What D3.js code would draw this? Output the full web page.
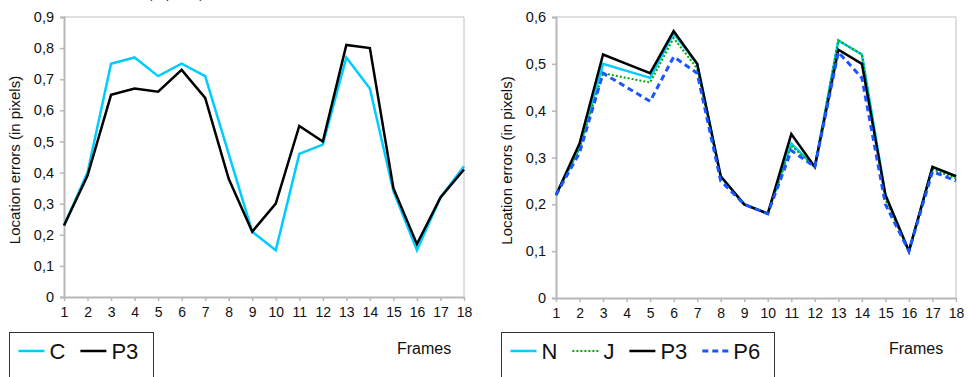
<!DOCTYPE html>
<html>
<head>
<meta charset="utf-8">
<script src="https://cdn.jsdelivr.net/npm/d3@7"></script>
<style>
  body { margin: 0; background: #fff; }
  svg { font-family: "Liberation Sans", Arial, sans-serif; }
</style>
</head>
<body>
<svg id="chart" width="968" height="377"></svg>
<script>
// frames 1..18
var frames = d3.range(1, 19)

// left chart
var leftTicks = ['0', '0,1', '0,2', '0,3', '0,4', '0,5', '0,6', '0,7', '0,8', '0,9']
var seriesC = [0.23, 0.40, 0.75, 0.77, 0.71, 0.75, 0.71, 0.46, 0.21, 0.15, 0.46, 0.49, 0.77, 0.67, 0.34, 0.15, 0.32, 0.42]
var seriesP3a = [0.23, 0.39, 0.65, 0.67, 0.66, 0.73, 0.64, 0.38, 0.21, 0.30, 0.55, 0.50, 0.81, 0.80, 0.35, 0.17, 0.32, 0.41]

// right chart
var rightTicks = ['0', '0,1', '0,2', '0,3', '0,4', '0,5', '0,6']
var seriesN = [0.22, 0.32, 0.50, 0.485, 0.47, 0.565, 0.50, 0.26, 0.20, 0.18, 0.33, 0.28, 0.55, 0.52, 0.22, 0.10, 0.28, 0.26]
var seriesJ = [0.22, 0.32, 0.48, 0.47, 0.46, 0.555, 0.49, 0.26, 0.20, 0.18, 0.325, 0.28, 0.55, 0.52, 0.21, 0.10, 0.275, 0.255]
var seriesP3b = [0.22, 0.33, 0.52, 0.50, 0.48, 0.57, 0.50, 0.26, 0.20, 0.18, 0.35, 0.28, 0.53, 0.50, 0.22, 0.10, 0.28, 0.26]
var seriesP6 = [0.22, 0.31, 0.48, 0.45, 0.42, 0.515, 0.48, 0.25, 0.20, 0.18, 0.315, 0.28, 0.525, 0.47, 0.20, 0.10, 0.27, 0.25]

var svg = d3.select('#chart')

// clipped title bits at the very top of the left panel
svg.append('text')
  .attr('x', 148)
  .attr('y', -2)
  .attr('font-size', 13)
  .attr('fill', '#222')
  .text('(in pixels)')

function drawChart(opts) {
  var x = d3.scaleLinear().domain([1, 18]).range([opts.left, opts.right])
  var y = d3.scaleLinear().domain([0, opts.max]).range([opts.bottom, opts.top])

  var g = svg.append('g')

  // plot frame (top and right)
  g.append('path')
    .attr('d', `M${opts.left},${opts.top}H${opts.right}V${opts.bottom}`)
    .attr('fill', 'none')
    .attr('stroke', '#c0c0c0')
    .attr('stroke-width', 1)

  // y axis
  var yAxis = d3.axisLeft(y)
    .tickValues(d3.range(opts.ticks.length).map(i => i / 10))
    .tickFormat((d, i) => opts.ticks[i])
    .tickSize(4)
    .tickPadding(6)
  var ya = g.append('g')
    .attr('transform', `translate(${opts.left},0)`)
    .call(yAxis)
  ya.select('.domain').attr('stroke', '#b8b8b8').attr('stroke-width', 2)
  ya.selectAll('.tick line').attr('stroke', '#b8b8b8').attr('stroke-width', 1.5)
  ya.selectAll('.tick text').attr('font-size', 14.5).attr('fill', '#111')
    .attr('font-family', '"Liberation Sans", Arial, sans-serif')

  // x axis
  var xAxis = d3.axisBottom(x)
    .tickValues(frames)
    .tickFormat(d3.format('d'))
    .tickSize(4)
    .tickSizeOuter(0)
    .tickPadding(6)
  var xa = g.append('g')
    .attr('transform', `translate(0,${opts.bottom})`)
    .call(xAxis)
  xa.select('.domain').attr('stroke', '#b8b8b8').attr('stroke-width', 2)
  xa.selectAll('.tick line').attr('stroke', '#b8b8b8').attr('stroke-width', 1.5)
  xa.selectAll('.tick text').attr('font-size', 14).attr('fill', '#111')
    .attr('font-family', '"Liberation Sans", Arial, sans-serif')

  // y axis title
  g.append('text')
    .attr('transform', `translate(${opts.left - 44},${(opts.top + opts.bottom) / 2 + 3}) rotate(-90)`)
    .attr('text-anchor', 'middle')
    .attr('font-size', 15)
    .attr('fill', '#111')
    .text('Location errors (in pixels)')

  // x axis title
  g.append('text')
    .attr('x', opts.right - 67)
    .attr('y', 354)
    .attr('font-size', 16)
    .attr('fill', '#111')
    .text('Frames')

  var line = d3.line()
    .x((d, i) => x(frames[i]))
    .y(d => y(d))

  opts.series.forEach(function(s) {
    g.append('path')
      .datum(s.values)
      .attr('d', line)
      .attr('fill', 'none')
      .attr('stroke', s.color)
      .attr('stroke-width', s.width)
      .attr('stroke-dasharray', s.dash)
      .attr('stroke-linejoin', 'miter')
  })

  // legend
  var lg = g.append('g')
  lg.append('rect')
    .attr('x', opts.legendX)
    .attr('y', 332.5)
    .attr('width', opts.legendW)
    .attr('height', 60)
    .attr('fill', '#fff')
    .attr('stroke', '#333')
    .attr('stroke-width', 1)

  var lx = opts.legendX + 9
  opts.series.forEach(function(s) {
    lg.append('line')
      .attr('x1', lx)
      .attr('x2', lx + 26)
      .attr('y1', 351)
      .attr('y2', 351)
      .attr('stroke', s.color)
      .attr('stroke-width', s.width)
      .attr('stroke-dasharray', s.dash)
    var t = lg.append('text')
      .attr('x', lx + 31)
      .attr('y', 359)
      .attr('font-size', 22)
      .attr('fill', '#111')
      .text(s.name)
    lx += 31 + t.node().getComputedTextLength() + 15
  })
}

drawChart({
  left: 64, right: 464, top: 17, bottom: 297, max: 0.9,
  ticks: leftTicks,
  legendX: 9.5, legendW: 144,
  series: [
    { name: 'C', values: seriesC, color: '#00ccff', width: 2.5, dash: null },
    { name: 'P3', values: seriesP3a, color: '#000', width: 2.5, dash: null }
  ]
})

drawChart({
  left: 556, right: 956, top: 17, bottom: 298, max: 0.6,
  ticks: rightTicks,
  legendX: 501.5, legendW: 273,
  series: [
    { name: 'N', values: seriesN, color: '#00ccff', width: 2.5, dash: null },
    { name: 'J', values: seriesJ, color: '#00aa00', width: 2, dash: '2,2' },
    { name: 'P3', values: seriesP3b, color: '#000', width: 2.5, dash: null },
    { name: 'P6', values: seriesP6, color: '#1a55ff', width: 3, dash: '6,4' }
  ]
})
</script>
</body>
</html>
